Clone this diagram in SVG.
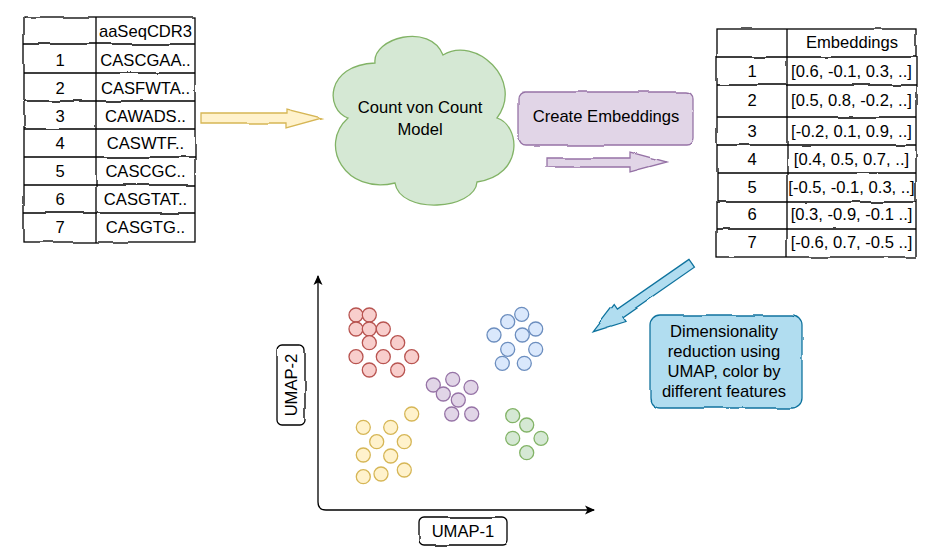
<svg xmlns="http://www.w3.org/2000/svg" width="938" height="560" viewBox="0 0 938 560">
<style>
text{font-family:"Liberation Sans",Arial,sans-serif;font-size:16.6px;fill:#000;}
.c{text-anchor:middle;}
.tbl{fill:none;stroke:#000;stroke-width:1.3;}
.ln{stroke:#000;stroke-width:1.3;fill:none;}
.red{fill:#f8cecc;stroke:#b85450;stroke-width:1.3;}
.blue{fill:#dae8fc;stroke:#6c8ebf;stroke-width:1.3;}
.pur{fill:#e1d5e7;stroke:#9673a6;stroke-width:1.3;}
.yel{fill:#fff2cc;stroke:#d6b656;stroke-width:1.3;}
.grn{fill:#d5e8d4;stroke:#82b366;stroke-width:1.3;}
.sk{filter:url(#rough);}
</style>
<defs>
<filter id="rough" x="-5%" y="-5%" width="110%" height="110%">
<feTurbulence type="fractalNoise" baseFrequency="0.03" numOctaves="2" seed="3" result="n"/>
<feDisplacementMap in="SourceGraphic" in2="n" scale="3" xChannelSelector="R" yChannelSelector="G"/>
</filter>
<marker id="ah" viewBox="0 0 10 10" refX="9" refY="5" markerWidth="10" markerHeight="10" markerUnits="userSpaceOnUse" orient="auto-start-reverse">
<path d="M0,0.5 L10,5 L0,9.5 L2.5,5 Z" fill="#000"/>
</marker>
</defs>
<rect width="938" height="560" fill="#fff"/>

<g id="table-cdr3">
<g class="sk">
<rect class="tbl" x="24" y="17" width="171" height="225"/>
<path class="ln" d="M96,17 V242 M24,44 H195 M24,73 H195 M24,101 H195 M24,129 H195 M24,157 H195 M24,185 H195 M24,213 H195"/>
</g>
<text class="c" x="145.5" y="37">aaSeqCDR3</text>
<text class="c" x="60" y="66">1</text><text class="c" x="145.5" y="66">CASCGAA..</text>
<text class="c" x="60" y="94">2</text><text class="c" x="145.5" y="94">CASFWTA..</text>
<text class="c" x="60" y="122">3</text><text class="c" x="145.5" y="122">CAWADS..</text>
<text class="c" x="60" y="149">4</text><text class="c" x="145.5" y="149">CASWTF..</text>
<text class="c" x="60" y="177">5</text><text class="c" x="145.5" y="177">CASCGC..</text>
<text class="c" x="60" y="205">6</text><text class="c" x="145.5" y="205">CASGTAT..</text>
<text class="c" x="60" y="233">7</text><text class="c" x="145.5" y="233">CASGTG..</text>
</g>

<g id="cloud-model">
<path d="M375,63 C372,38 430,22 443,55 C475,35 525,80 497,118 C520,125 525,175 477,182 C475,210 400,215 395,183 C345,195 318,145 348,118 C325,110 325,65 375,63 Z" fill="#d5e8d4" stroke="#82b366" stroke-width="1.3"/>
<text class="c" x="420" y="113">Count von Count</text>
<text class="c" x="420" y="135">Model</text>
</g>

<g id="create-embeddings">
<rect class="sk" x="519" y="92" width="174" height="53" rx="7" fill="#e1d5e7" stroke="#9673a6" stroke-width="1.3"/>
<text class="c" x="606" y="122">Create Embeddings</text>
</g>

<g id="table-embeddings">
<g class="sk">
<rect class="tbl" x="717" y="29" width="199" height="228"/>
<path class="ln" d="M787,29 V257 M717,57 H916 M717,85 H916 M717,117 H916 M717,145 H916 M717,173 H916 M717,202 H916 M717,229 H916"/>
</g>
<text class="c" x="852" y="48">Embeddings</text>
<text class="c" x="752" y="77">1</text><text class="c" x="851.5" y="77">[0.6, -0.1, 0.3, ..]</text>
<text class="c" x="752" y="106">2</text><text class="c" x="851.5" y="106">[0.5, 0.8, -0.2, ..]</text>
<text class="c" x="752" y="137">3</text><text class="c" x="851.5" y="137">[-0.2, 0.1, 0.9, ..]</text>
<text class="c" x="752" y="165">4</text><text class="c" x="851.5" y="165">[0.4, 0.5, 0.7, ..]</text>
<text class="c" x="752" y="193">5</text><text class="c" x="851.5" y="193">[-0.5, -0.1, 0.3, ..]</text>
<text class="c" x="752" y="220">6</text><text class="c" x="851.5" y="220">[0.3, -0.9, -0.1 ..]</text>
<text class="c" x="752" y="248">7</text><text class="c" x="851.5" y="248">[-0.6, 0.7, -0.5 ..]</text>
</g>

<g id="umap-callout">
<rect class="sk" x="650" y="315" width="152" height="93" rx="10" fill="#b1ddf0" stroke="#10739e" stroke-width="1.3"/>
<text class="c" x="724" y="337">Dimensionality</text>
<text class="c" x="724" y="356.5">reduction using</text>
<text class="c" x="724" y="376.5">UMAP, color by</text>
<text class="c" x="724" y="396.5">different features</text>
</g>

<g id="connectors">
<polygon class="sk" points="201,113 286,113 286,109 322,118 286,128 286,123 201,123" fill="#fff2cc" stroke="#d6b656" stroke-width="1.3"/>
<polygon class="sk" points="546,158 630,158 630,152 667,162 630,172 630,167 546,167" fill="#e1d5e7" stroke="#9673a6" stroke-width="1.3"/>
<polygon class="sk" points="689,259.4 617.4,309.1 614.2,304.5 593.3,331.7 626,321.5 622.8,316.9 694.4,267.2" fill="#b1ddf0" stroke="#10739e" stroke-width="1.3"/>
</g>

<g id="umap-plot">
<path class="ln" d="M318,276 L318,502 Q318,510 326,510 L594,510" stroke-width="1.5" marker-start="url(#ah)" marker-end="url(#ah)"/>
<g id="cluster-red">
<circle class="red" cx="356" cy="315" r="7"/><circle class="red" cx="369.3" cy="315" r="7"/>
<circle class="red" cx="356" cy="329" r="7"/><circle class="red" cx="369.3" cy="329" r="7"/><circle class="red" cx="383.3" cy="329" r="7"/>
<circle class="red" cx="369.3" cy="342.7" r="7"/><circle class="red" cx="397.7" cy="342.7" r="7"/>
<circle class="red" cx="356" cy="356.7" r="7"/><circle class="red" cx="383.3" cy="356.7" r="7"/><circle class="red" cx="411.7" cy="356.7" r="7"/>
<circle class="red" cx="369.3" cy="370" r="7"/><circle class="red" cx="397.7" cy="370" r="7"/>
</g>
<g id="cluster-blue">
<circle class="blue" cx="521.7" cy="314.3" r="7"/><circle class="blue" cx="507.7" cy="321.7" r="7"/>
<circle class="blue" cx="494" cy="335" r="7"/><circle class="blue" cx="522.3" cy="335" r="7"/><circle class="blue" cx="535.7" cy="329" r="7"/>
<circle class="blue" cx="507.7" cy="349.3" r="7"/><circle class="blue" cx="535.7" cy="349.3" r="7"/>
<circle class="blue" cx="502.3" cy="363.3" r="7"/><circle class="blue" cx="524.3" cy="363.3" r="7"/>
</g>
<g id="cluster-purple">
<circle class="pur" cx="433.3" cy="385" r="7"/><circle class="pur" cx="452.7" cy="379.3" r="7"/><circle class="pur" cx="471" cy="387.3" r="7"/>
<circle class="pur" cx="443.3" cy="394" r="7"/><circle class="pur" cx="458.3" cy="400" r="7"/>
<circle class="pur" cx="451.7" cy="414" r="7"/><circle class="pur" cx="471.7" cy="414" r="7"/>
</g>
<g id="cluster-yellow">
<circle class="yel" cx="411.7" cy="414" r="7"/>
<circle class="yel" cx="363.3" cy="427.3" r="7"/><circle class="yel" cx="390.7" cy="427.3" r="7"/>
<circle class="yel" cx="376.7" cy="441.7" r="7"/><circle class="yel" cx="404.3" cy="441.7" r="7"/>
<circle class="yel" cx="363.3" cy="455" r="7"/><circle class="yel" cx="390.7" cy="456" r="7"/>
<circle class="yel" cx="404.3" cy="470" r="7"/>
<circle class="yel" cx="363.3" cy="476.7" r="7"/><circle class="yel" cx="381" cy="474" r="7"/>
</g>
<g id="cluster-green">
<circle class="grn" cx="512.7" cy="415.7" r="7"/><circle class="grn" cx="526.7" cy="425" r="7"/>
<circle class="grn" cx="512.7" cy="438.3" r="7"/><circle class="grn" cx="541" cy="438.3" r="7"/>
<circle class="grn" cx="526.7" cy="452.7" r="7"/>
</g>
</g>

<g id="label-umap2">
<rect class="sk" x="277" y="345" width="28" height="80" rx="5" fill="#fff" stroke="#000" stroke-width="1.3"/>
<text class="c" x="291" y="391" transform="rotate(-90 291 385)">UMAP-2</text>
</g>
<g id="label-umap1">
<rect class="sk" x="419" y="517" width="88" height="28" rx="5" fill="#fff" stroke="#000" stroke-width="1.3"/>
<text class="c" x="463" y="537">UMAP-1</text>
</g>
</svg>
